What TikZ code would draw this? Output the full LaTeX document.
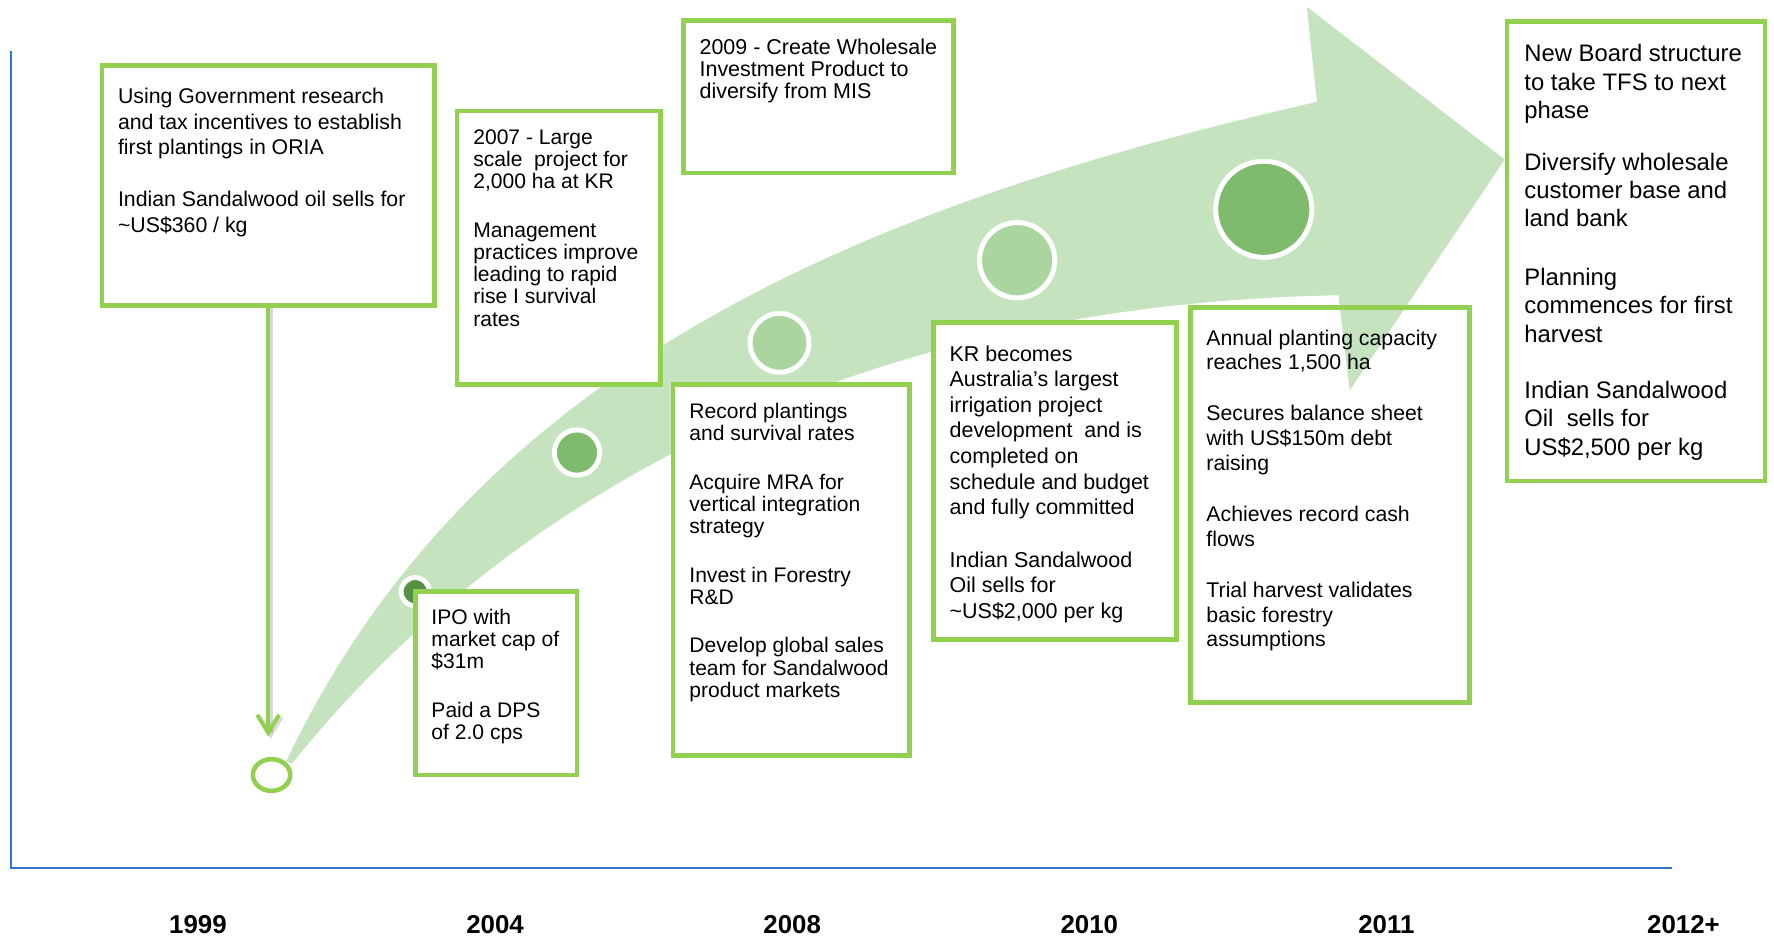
\documentclass[tikz,border=0pt]{standalone}
\usepackage{fontspec}
\setmainfont{Liberation Sans}
\usetikzlibrary{arrows.meta,shapes.geometric}

\definecolor{leaf}{RGB}{146,208,80}
\definecolor{band}{RGB}{197,227,191}
\definecolor{dotlight}{RGB}{170,213,158}
\definecolor{dotmid}{RGB}{127,187,108}
\definecolor{dotdark}{RGB}{84,145,68}
\definecolor{axisblue}{RGB}{46,117,214}

\tikzset{
  card/.style={draw=leaf, line width=2.3pt, fill=white, anchor=north west,
    inner sep=0pt, outer sep=0pt},
  note/.style={anchor=north west, inner sep=0pt, align=left,
    font=\fontsize{10.6}{11.15}\selectfont},
  milestone/.style={circle, draw=white, line width=2.5pt, inner sep=0pt},
  yearlbl/.style={font=\bfseries\fontsize{13}{15}\selectfont},
  pointer/.style={draw=leaf, line width=2pt, -{Straight Barb[length=9pt,width=11pt]}},
}

\begin{document}
\begin{tikzpicture}[x=0.2mm, y=-0.2mm]
    \useasboundingbox (0,0) rectangle (1568,827);

    % Axes
    \draw[axisblue, line width=1pt] (10,45) -- (10,767) -- (1478,767);

    % Year labels
    \foreach \yr [count=\i from 0] in {1999,2004,2008,2010,2011,2012+}
        \node[yearlbl] (year\i) at (175+262.6*\i,817) {\yr};

    % Growth arrow
    \fill[band] (253,673) .. controls (420,320) and (770,180) .. (1164,90)
        -- (1155,6) -- (1330,141) -- (1193,345) -- (1183,261)
        .. controls (670,270) and (390,510) .. (258,675) -- cycle;

    % Milestones along the arrow
    \node[milestone, fill=dotdark, minimum size=0.5cm] (dot1) at (367,523) {};
    \node[milestone, fill=dotmid, minimum size=0.8cm] (dot2) at (510,400) {};
    \node[milestone, fill=dotlight, minimum size=1.04cm] (dot3) at (689,303) {};
    \node[milestone, fill=dotlight, minimum size=1.33cm] (dot4) at (899,230) {};
    \node[milestone, fill=dotmid, minimum size=1.7cm] (dot5) at (1117,185) {};
    \node[ellipse, draw=leaf, fill=white, line width=2.3pt, inner sep=0pt,
        minimum width=0.66cm, minimum height=0.56cm] (start) at (240,685) {};

    % Boxes
    \node[card, minimum width=5.88cm, minimum height=4.24cm] (oria) at (90,58) {};
    \node[card, minimum width=3.6cm, minimum height=4.84cm] (kr07) at (404,98) {};
    \node[card, minimum width=4.78cm, minimum height=2.7cm] (whole) at (604,18) {};
    \node[card, minimum width=2.86cm, minimum height=3.24cm] (ipo) at (367,523) {};
    \node[card, minimum width=4.18cm, minimum height=6.56cm] (record) at (595,340) {};
    \node[card, minimum width=4.3cm, minimum height=5.6cm] (irrig) at (825,285) {};
    \node[card, fill=none, minimum width=4.94cm, minimum height=6.98cm] (capacity) at (1052,272) {};
    \node[card, minimum width=4.56cm, minimum height=8.12cm] (board) at (1332,19) {};

    % Box texts
    \node[note, font=\fontsize{10.7}{12.9}\selectfont] (oria-t) at (104,77.5)
        {Using Government research\\ and tax incentives to establish\\ first plantings in ORIA\\[13.3pt]
         Indian Sandalwood oil sells for\\ \textasciitilde US\$360 / kg};
    \node[note] (kr07-t) at (418,114)
        {2007 - Large\\ scale~ project for\\ 2,000 ha at KR\\[13.5pt]
         Management\\ practices improve\\ leading to rapid\\ rise I survival\\ rates};
    \node[note, font=\fontsize{10.8}{11.1}\selectfont] (whole-t) at (618,34)
        {2009 - Create Wholesale\\ Investment Product to\\ diversify from MIS};
    \node[note] (ipo-t) at (381,538)
        {IPO with\\ market cap of\\ \$31m\\[13.3pt] Paid a DPS\\ of 2.0 cps};
    \node[note] (record-t) at (609,356)
        {Record plantings\\ and survival rates\\[13.3pt]
         Acquire MRA for\\ vertical integration\\ strategy\\[13.3pt]
         Invest in Forestry\\ R\&D\\[13.3pt]
         Develop global sales\\ team for Sandalwood\\ product markets};
    \node[note, font=\fontsize{10.8}{12.9}\selectfont] (irrig-t) at (839,305)
        {KR becomes\\ Australia’s largest\\ irrigation project\\ development~ and is\\
         completed on\\ schedule and budget\\ and fully committed\\[13.3pt]
         Indian Sandalwood\\ Oil sells for\\ \textasciitilde US\$2,000 per kg};
    \node[note, font=\fontsize{10.7}{12.5}\selectfont] (capacity-t) at (1066,291)
        {Annual planting capacity\\ reaches 1,500 ha\\[13.1pt]
         Secures balance sheet\\ with US\$150m debt\\ raising\\[13.1pt]
         Achieves record cash\\ flows\\[13.1pt]
         Trial harvest validates\\ basic forestry\\ assumptions};
    \node[note, font=\fontsize{12}{14.2}\selectfont] (board-t) at (1347,39)
        {New Board structure\\ to take TFS to next\\ phase\\[12pt]
         Diversify wholesale\\ customer base and\\ land bank\\[15.4pt]
         Planning\\ commences for first\\ harvest\\[14.2pt]
         Indian Sandalwood\\ Oil~ sells for\\ US\$2,500 per kg};

    % Drop line to the starting point
    \draw[pointer, draw=black, opacity=0.15, shorten >=0.36cm,
        transform canvas={shift={(1.2pt,-1.2pt)}}] (oria.south) -- (oria.south |- start.north);
    \draw[pointer, shorten >=0.36cm] (oria.south) -- (oria.south |- start.north);
\end{tikzpicture}
\end{document}
